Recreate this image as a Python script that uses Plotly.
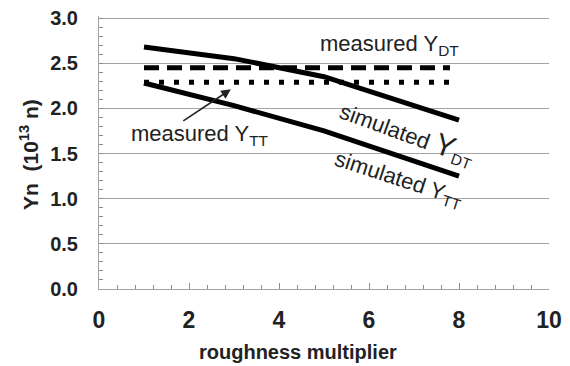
import plotly.graph_objects as go

# ---- data ----
roughness = [1, 3, 5, 8]
sim_dt = [2.68, 2.55, 2.35, 1.87]
sim_tt = [2.28, 2.03, 1.75, 1.25]
meas_x = [1, 7.8]
meas_dt = [2.45, 2.45]
meas_tt = [2.29, 2.29]
x_ticks = [0, 2, 4, 6, 8, 10]
y_ticks = [0.0, 0.5, 1.0, 1.5, 2.0, 2.5, 3.0]

FONT = "Liberation Sans, Arial, Helvetica, sans-serif"
TXT = "#222222"
GRID = "#a3a3a3"
TICK = "#8c8c8c"

# page body has an 8px margin, so the figure is sized to fill the window after it
W, H = 562, 358
L, T, R, B = 91, 8, 21, 77
PW, PH = W - L - R, H - T - B
PX_PER_Y = 271 / 3.0           # pixels per y unit in the reference
Y_TOP = PH / PX_PER_Y          # a bit above 3.0 so the 3.0 gridline is drawn

fig = go.Figure()
fig.add_trace(go.Scatter(x=roughness, y=sim_dt, mode="lines",
                         line=dict(color="black", width=5), showlegend=False))
fig.add_trace(go.Scatter(x=roughness, y=sim_tt, mode="lines",
                         line=dict(color="black", width=5), showlegend=False))
fig.add_trace(go.Scatter(x=meas_x, y=meas_dt, mode="lines",
                         line=dict(color="black", width=5, dash="15px,8px"), showlegend=False))
fig.add_trace(go.Scatter(x=meas_x, y=meas_tt, mode="lines",
                         line=dict(color="black", width=5, dash="5px,10px"), showlegend=False))

fig.update_layout(
    template="none",
    width=W, height=H,
    margin=dict(l=L, r=R, t=T, b=B, autoexpand=False),
    paper_bgcolor="white", plot_bgcolor="white",
    font=dict(family=FONT, color=TXT),
    xaxis=dict(range=[x_ticks[0], x_ticks[-1]], tickmode="linear",
               tick0=x_ticks[0], dtick=x_ticks[1] - x_ticks[0],
               automargin=False, ticklabeloverflow="allow",
               showgrid=False, zeroline=False, showline=True, linecolor=GRID, linewidth=1,
               ticks="inside", ticklen=6, tickcolor=TICK, tickwidth=1,
               minor=dict(tickmode="linear", dtick=0.4, tick0=0, ticks="inside", ticklen=4,
                          tickcolor=TICK, tickwidth=1, showgrid=False),
               tickfont=dict(family=FONT, size=23, color=TXT, weight="bold"),
               ticklabelstandoff=10),
    yaxis=dict(range=[y_ticks[0], Y_TOP], tickmode="linear",
               tick0=y_ticks[0], dtick=y_ticks[1] - y_ticks[0], tickformat=".1f",
               automargin=False, ticklabeloverflow="allow",
               showgrid=True, gridcolor=GRID, gridwidth=1, zeroline=False,
               showline=True, linecolor=GRID, linewidth=1,
               ticks="inside", ticklen=4, tickcolor=TICK,
               minor=dict(tickmode="linear", dtick=0.1, tick0=0, ticks="inside", ticklen=4,
                          tickcolor=TICK, tickwidth=1, showgrid=False),
               tickfont=dict(family=FONT, size=20, color=TXT, weight="bold"),
               ticklabelstandoff=16),
)

ann = []
ann.append(dict(text="roughness multiplier", xref="paper", yref="paper",
                x=(298 - 99) / PW, y=-(352 - 289) / PH, xanchor="center", yanchor="middle",
                showarrow=False,
                font=dict(family=FONT, size=20, color=TXT, weight="bold")))
ann.append(dict(text="Yn  (10<sup>13</sup> n)", xref="paper", yref="paper",
                x=-(99 - 29) / PW, y=(289 - 155) / PH, xanchor="center", yanchor="middle",
                showarrow=False, textangle=-90,
                font=dict(family=FONT, size=21, color=TXT, weight="bold")))
ann.append(dict(text="measured Y<sub>DT</sub>", x=6.45, y=2.70, showarrow=False,
                font=dict(family=FONT, size=22, color=TXT)))
ann.append(dict(text="measured Y<sub>TT</sub>", x=2.25, y=1.70, showarrow=False,
                font=dict(family=FONT, size=22, color=TXT)))
ann.append(dict(text="", x=2.93, y=2.21, ax=1.84, ay=1.85, axref="x", ayref="y",
                showarrow=True, arrowhead=2, arrowsize=1.2, arrowwidth=1.6, arrowcolor=TXT))
ann.append(dict(text="simulated <span style='font-size:30px'>Y</span><sub>DT</sub>",
                x=6.85, y=1.73, showarrow=False, textangle=20,
                font=dict(family=FONT, size=22, color=TXT)))
ann.append(dict(text="simulated Y<sub>TT</sub>",
                x=6.67, y=1.21, showarrow=False, textangle=18,
                font=dict(family=FONT, size=22, color=TXT)))
fig.update_layout(annotations=ann)

fig.write_html("out.html")
